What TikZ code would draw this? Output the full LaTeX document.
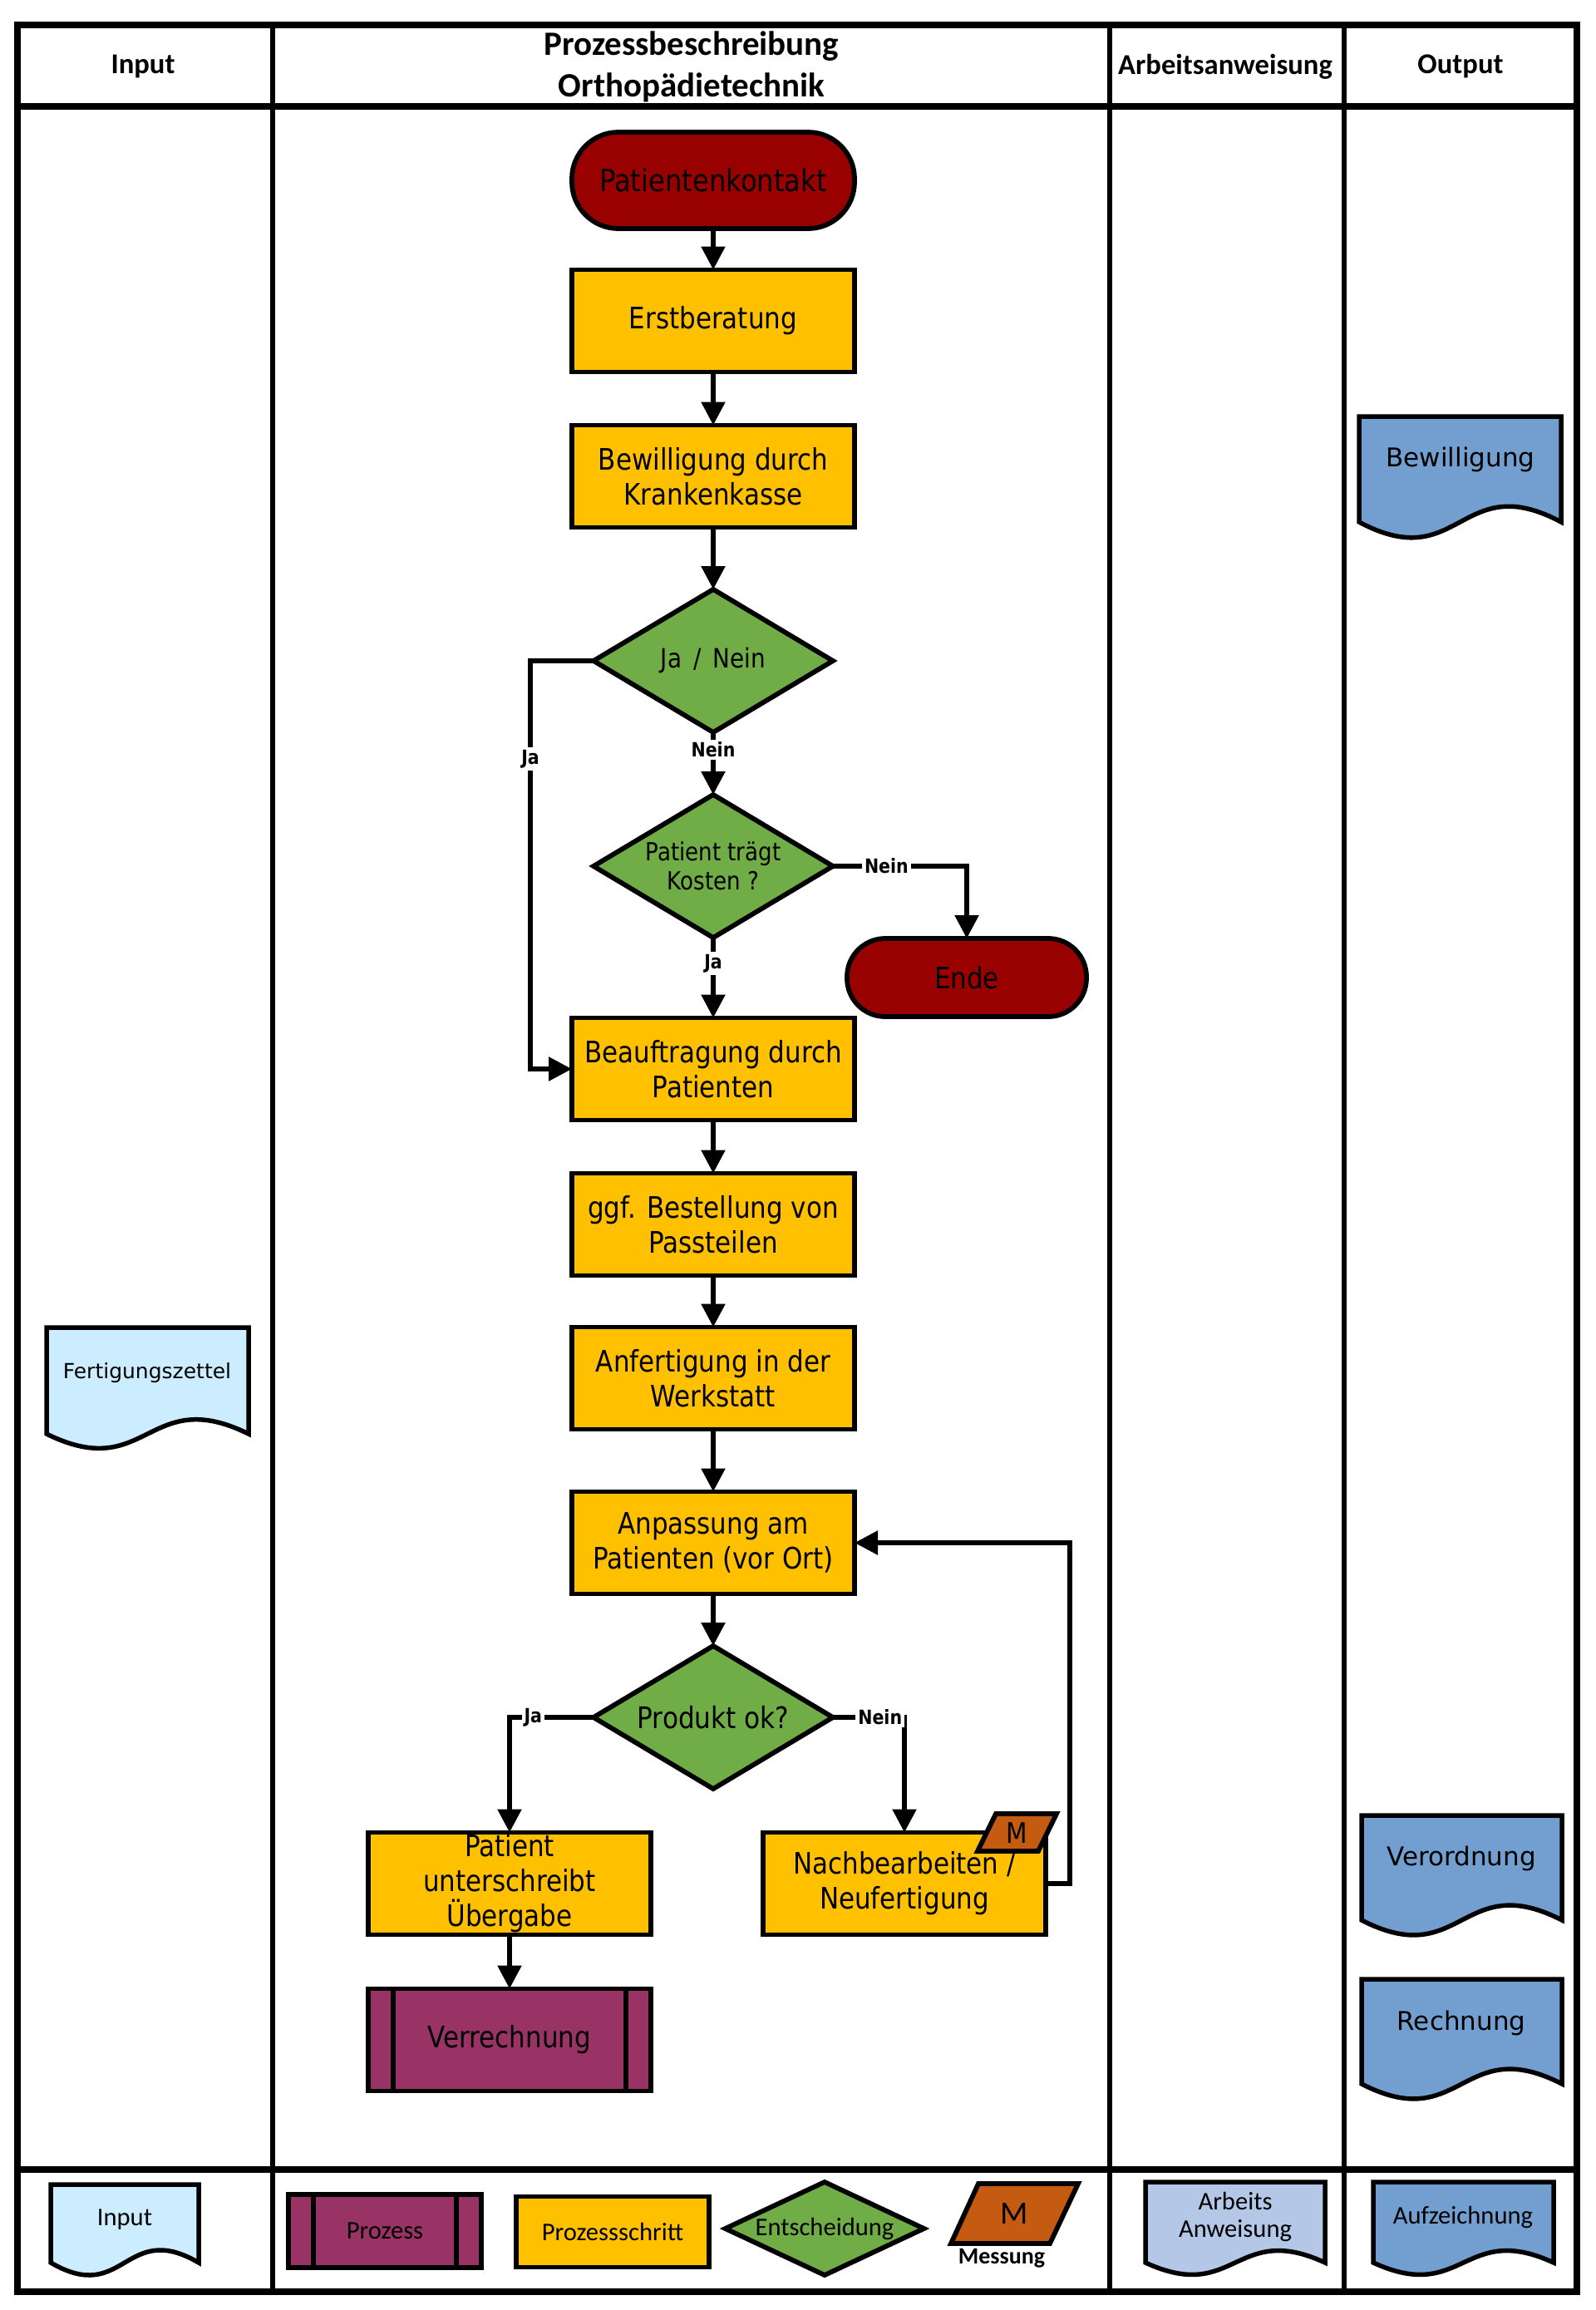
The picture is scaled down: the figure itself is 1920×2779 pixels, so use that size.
\documentclass[tikz,border=0pt]{standalone}
\usepackage{fontspec}
\setmainfont{Carlito}
\newfontfamily\tahfont[FakeStretch=0.87]{DejaVu Sans}
\newfontfamily\verfont{DejaVu Sans}
\usetikzlibrary{arrows.meta,shapes.geometric}
\definecolor{termred}{HTML}{990000}
\definecolor{procyellow}{HTML}{FFC000}
\definecolor{decgreen}{HTML}{70AD47}
\definecolor{procpurple}{HTML}{993366}
\definecolor{measorange}{HTML}{C55A11}
\definecolor{inblue}{HTML}{CCECFF}
\definecolor{outblue}{HTML}{729FCF}
\definecolor{workblue}{HTML}{B4C7E7}
\newcommand\docpath[6]{\draw[#1] (#2,#3) -- (#4,#3) -- (#4,#5) .. controls ({(#2+#4)/2},{#5-#6}) and ({(#2+#4)/2},{#5+#6}) .. (#2,#5) -- cycle;}
\tikzset{
  every node/.style={inner sep=0pt,outer sep=0pt},
  frameline/.style={line width=3.75pt},
  colline/.style={line width=2.75pt},
  headtxt/.style={font=\bfseries\fontsize{17.3}{25}\selectfont, align=center},
  mainfnt/.style={font=\tahfont\fontsize{17.8}{21}\selectfont},
  procbox/.style={draw, line width=2.9pt, fill=procyellow, minimum width=170pt, minimum height=61.5pt, align=center, mainfnt},
  termbox/.style={procbox, fill=termred},
  decbox/.style={draw, diamond, line width=2.9pt, fill=decgreen, minimum width=144pt, minimum height=86pt, aspect=1.67, align=center},
  arr/.style={line width=2.75pt, -{Triangle[length=14pt,width=14pt]}},
  lbl/.style={fill=white, inner sep=1.5pt, font=\tahfont\bfseries\fontsize{11.8}{13}\selectfont},
  docline/.style={line width=2.75pt},
  doctxt/.style={font=\verfont\fontsize{15.5}{19}\selectfont},
  legfnt/.style={font=\fontsize{15.3}{16.5}\selectfont},
  legtxt/.style={legfnt, align=center},
  barline/.style={line width=2.9pt},
}
\begin{document}
\begin{tikzpicture}[x=0.5pt,y=-0.5pt]
\useasboundingbox (0,0) rectangle (1920,2779);
% table
\foreach \cx in {328,1335,1617} \draw[colline] (\cx,30) -- (\cx,2757);
\draw[frameline] (21,30) rectangle (1897,2757);
\draw[frameline] (21,128) -- (1897,128);
\draw[frameline] (21,2610) -- (1897,2610);
% headers
\node[headtxt] (hIn) at (172,80) {Input};
\node[headtxt, font=\bfseries\fontsize{20.5}{25}\selectfont] (hPr) at (832,80) {Prozessbeschreibung\\Orthopädietechnik};
\node[headtxt] (hAw) at (1474,80) {Arbeitsanweisung};
\node[headtxt] (hOut) at (1757,80) {Output};
% main flow
\node[termbox, rounded corners=28pt, minimum height=58pt, font=\tahfont\fontsize{18.5}{21}\selectfont] (pk) at (858,217) {Patientenkontakt};
\node[procbox] (eb) at (858,386) {Erstberatung};
\node[procbox] (bw) at (858,573) {Bewilligung durch\\Krankenkasse};
\node[decbox, font=\tahfont\fontsize{16}{18}\selectfont] (d1) at (858,795) {Ja\, /\, Nein};
\node[decbox, font=\tahfont\fontsize{15}{17.5}\selectfont] (d2) at (858,1042) {Patient trägt\\Kosten ?};
\node[termbox, rounded corners=23pt, minimum width=144pt, minimum height=47pt] (en) at (1163,1176) {Ende};
\node[procbox] (bf) at (858,1286) {Beauftragung durch\\Patienten};
\node[procbox] (bs) at (858,1473) {ggf. Bestellung von\\Passteilen};
\node[procbox] (af) at (858,1658) {Anfertigung in der\\Werkstatt};
\node[procbox] (ap) at (858,1856) {Anpassung am\\Patienten (vor Ort)};
\node[decbox, font=\tahfont\fontsize{17.9}{21}\selectfont] (d3) at (858,2066) {Produkt ok?};
\node[procbox] (pu) at (613,2266) {Patient\\unterschreibt\\Übergabe};
\node[procbox] (nb) at (1088,2266) {Nachbearbeiten /\\Neufertigung};
\node[procbox, fill=procpurple] (vr) at (613,2454) {Verrechnung};
\draw[barline] ([xshift=15pt]vr.north west) -- ([xshift=15pt]vr.south west);
\draw[barline] ([xshift=-15pt]vr.north east) -- ([xshift=-15pt]vr.south east);
\draw[line width=2.9pt, fill=measorange] (1176,2227) -- (1249,2227) -- (1271,2182) -- (1198,2182) -- cycle;
\node[font=\tahfont\fontsize{17}{18}\selectfont] (mtag) at (1223,2205) {M};
% connectors
\draw[arr] (pk.south) -- (eb.north);
\draw[arr] (eb.south) -- (bw.north);
\draw[arr] (bw.south) -- (d1.north);
\draw[arr] (d1.south) -- (d2.north) node[pos=0.28, lbl] {Nein};
\coordinate (jaL) at (638,795);
\draw[arr] (d1.west) -- (jaL) |- (bf.west) node[pos=0.12, lbl] {Ja};
\draw[arr] (d2.east) -| (en.north) node[pos=0.2, lbl] {Nein};
\draw[arr] (d2.south) -- (bf.north) node[pos=0.32, lbl] {Ja};
\draw[arr] (bf.south) -- (bs.north);
\draw[arr] (bs.south) -- (af.north);
\draw[arr] (af.south) -- (ap.north);
\draw[arr] (ap.south) -- (d3.north);
\draw[arr] (d3.west) -| (pu.north) node[pos=0.36, lbl] {Ja};
\draw[arr] (d3.east) -| (nb.north) node[pos=0.33, lbl] {Nein};
\coordinate (lp) at (1287,2266);
\draw[arr] (nb.east) -- (lp) |- (ap.east);
\draw[arr] (pu.south) -- (vr.north);
% documents
\docpath{docline, fill=outblue}{1635}{501}{1878}{628}{65}
\node[doctxt] (tBew) at (1757,553) {Bewilligung};
\docpath{docline, fill=outblue}{1638}{2184}{1879}{2310}{62}
\node[doctxt] (tVer) at (1758,2236) {Verordnung};
\docpath{docline, fill=outblue}{1638}{2381}{1879}{2507}{62}
\node[doctxt] (tRe) at (1758,2434) {Rechnung};
\docpath{docline, fill=inblue}{56}{1597}{299}{1725}{60}
\node[font=\verfont\fontsize{12.5}{15}\selectfont] (tFz) at (177,1652) {Fertigungszettel};
% legend
\docpath{docline, fill=inblue}{61}{2628}{239}{2722}{52}
\node[legtxt] (lIn) at (150,2670) {Input};
\node[procbox, fill=procpurple, minimum width=116pt, minimum height=44pt, legfnt] (lPz) at (463,2684) {Prozess};
\draw[barline] ([xshift=15pt]lPz.north west) -- ([xshift=15pt]lPz.south west);
\draw[barline] ([xshift=-15pt]lPz.north east) -- ([xshift=-15pt]lPz.south east);
\node[procbox, minimum width=116pt, minimum height=42.5pt, legfnt] (lPs) at (737,2685) {Prozessschritt};
\node[decbox, minimum width=119.5pt, minimum height=56pt, aspect=2.13, legfnt] (lEn) at (992,2681) {Entscheidung};
\draw[line width=2.9pt, fill=measorange] (1144,2699) -- (1263,2699) -- (1297,2627) -- (1177,2627) -- cycle;
\node[font=\fontsize{19.5}{20}\selectfont] (lM) at (1220,2663) {M};
\node[font=\bfseries\fontsize{14}{16}\selectfont] (lMe) at (1205,2717) {Messung};
\docpath{docline, fill=workblue}{1378}{2625}{1594}{2722}{50}
\node[legtxt] (lAw) at (1486,2667) {Arbeits\\Anweisung};
\docpath{docline, fill=outblue}{1652}{2625}{1869}{2722}{50}
\node[legtxt] (lAz) at (1760,2667) {Aufzeichnung};
\end{tikzpicture}
\end{document}
